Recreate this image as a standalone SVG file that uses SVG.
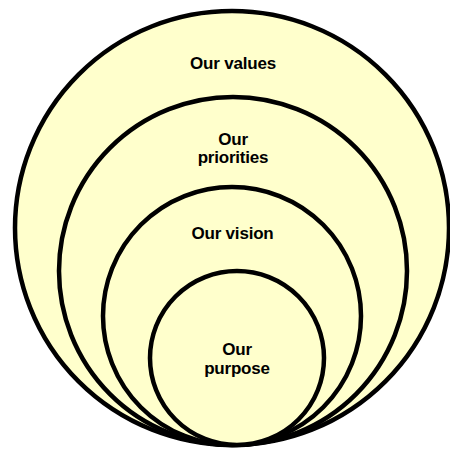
<svg xmlns="http://www.w3.org/2000/svg" width="450" height="449" viewBox="0 0 450 449">
  <style>
    .ring { fill: #FFFFCC; stroke: #000000; stroke-width: 4.5; }
    .label { font-family: "Liberation Sans", Arial, sans-serif; font-size: 17px; font-weight: bold; fill: #000000; text-anchor: middle; letter-spacing: -0.2px; }
  </style>
  <!-- nested rings, all touching at the bottom -->
  <g id="values">
    <circle class="ring" cx="232" cy="228" r="217"/>
    <text class="label" x="233" y="69">Our values</text>
  </g>
  <g id="priorities">
    <circle class="ring" cx="233" cy="271" r="174"/>
    <text class="label" x="233" y="145">Our</text>
    <text class="label" x="233" y="163">priorities</text>
  </g>
  <g id="vision">
    <circle class="ring" cx="232" cy="316" r="129"/>
    <text class="label" x="232.5" y="239">Our vision</text>
  </g>
  <g id="purpose">
    <circle class="ring" cx="237" cy="358" r="87"/>
    <text class="label" x="237" y="355">Our</text>
    <text class="label" x="237" y="374">purpose</text>
  </g>
  <g id="connectors"/>
</svg>
